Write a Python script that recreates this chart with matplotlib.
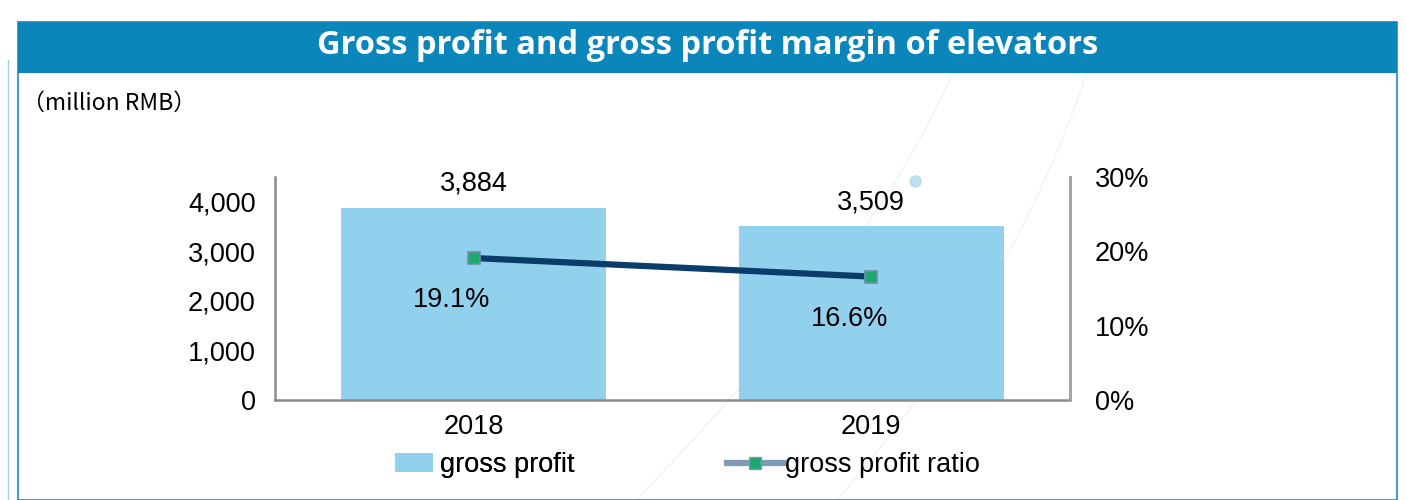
import matplotlib.pyplot as plt
from matplotlib.patches import Rectangle, Patch, PathPatch
from matplotlib.path import Path
from matplotlib.lines import Line2D

years = ['2018', '2019']
gross_profit = [3884, 3509]
gross_ratio = [0.191, 0.166]
profit_labels = ['3,884', '3,509']
ratio_labels = ['19.1%', '16.6%']

plt.rcParams['font.family'] = ['Liberation Sans', 'DejaVu Sans']

fig = plt.figure(figsize=(14.07, 5), dpi=100)
fig.patch.set_facecolor('white')

W, H = 1407, 500
def fx(px): return px / W
def fy(py): return 1 - py / H

# faint decorative arcs behind the chart
for pts in [[(953, 73), (870, 260), (636, 500)], [(1087, 73), (1010, 300), (837, 500)]]:
    verts = [(fx(a), fy(b)) for a, b in pts]
    fig.add_artist(PathPatch(Path(verts, [Path.MOVETO, Path.CURVE3, Path.CURVE3]),
                             transform=fig.transFigure, fill=False, ec='#eef6f9',
                             lw=1.2, zorder=-5))
fig.add_artist(Line2D([fx(915)], [fy(181)], transform=fig.transFigure, marker='o',
                      markersize=9, color='#bcdff0', markeredgewidth=0, zorder=-4))

# frame and title banner
fig.add_artist(Line2D([fx(8), fx(8)], [0, fy(60)], transform=fig.transFigure,
                      color='#9fd3ea', lw=1))
fig.add_artist(Rectangle((fx(18), fy(500)), fx(1397) - fx(18), fy(22) - fy(500),
                         transform=fig.transFigure, fill=False, ec='#1a8cc0', lw=1.2))
fig.add_artist(Rectangle((fx(18), fy(73)), fx(1397) - fx(18), fy(22) - fy(73),
                         transform=fig.transFigure, fc='#0a86bb', ec='none'))
fig.text(fx(708), fy(45), 'Gross profit and gross profit margin of elevators',
         ha='center', va='center', color='white', fontsize=23.5, fontweight='bold',
         family=['Open Sans', 'DejaVu Sans'])
fig.text(fx(22), fy(103), '（million RMB）', ha='left', va='center', fontsize=16.5,
         family=['Noto Sans CJK SC', 'DejaVu Sans'])

ax = fig.add_axes([fx(275), fy(400), fx(1070) - fx(275), fy(177) - fy(400)])
ax.patch.set_alpha(0)
x = range(len(years))
ax.bar(x, gross_profit, width=0.667, color='#92d1ee', zorder=1)
ax.set_xlim(-0.5, 1.5)
ax.set_ylim(0, 4500)
ax.set_yticks([0, 1000, 2000, 3000, 4000])
ax.set_yticklabels(['{:,}'.format(v) for v in [0, 1000, 2000, 3000, 4000]])
ax.set_xticks(list(x))
ax.set_xticklabels(years)
ax.tick_params(length=0, labelsize=19.5, pad=14)
ax.tick_params(axis='x', pad=10)
ax.spines['top'].set_visible(False)
for s in ['left', 'bottom', 'right']:
    ax.spines[s].set_color('#8c8c8c')
    ax.spines[s].set_linewidth(1.8)
for i, v in enumerate(gross_profit):
    ax.text(i, v + 480, profit_labels[i], ha='center', va='center', fontsize=19.5)

ax2 = ax.twinx()
ax2.set_ylim(0, 0.30)
ax2.set_yticks([0, 0.1, 0.2, 0.3])
ax2.set_yticklabels(['0%', '10%', '20%', '30%'])
ax2.tick_params(length=0, labelsize=19.5, pad=18)
for s in ['top', 'left', 'bottom']:
    ax2.spines[s].set_visible(False)
ax2.spines['right'].set_color('#a6a6a6')
ax2.spines['right'].set_linewidth(1.8)
ax2.plot(list(x), gross_ratio, color='#0b3d6b', lw=4.5, marker='s', markersize=8,
         markerfacecolor='#1aaa6f', markeredgecolor='#6f8fa8', markeredgewidth=1.2, zorder=3)
for i, v in enumerate(gross_ratio):
    ax2.text(i - 0.055, v - 0.057, ratio_labels[i], ha='center', va='center', fontsize=19.5)

# legend, two entries placed separately
leg1 = fig.legend([Patch(facecolor='#92d1ee', edgecolor='none')], ['gross profit'],
                  loc='center left', bbox_to_anchor=(fx(395), fy(465)), frameon=False,
                  fontsize=19.5, handlelength=1.4, handletextpad=0.25,
                  borderpad=0, borderaxespad=0)
leg2 = fig.legend([Line2D([0], [0], color='#7f9ab5', lw=4.5, marker='s', markersize=8,
                          markerfacecolor='#1aaa6f', markeredgecolor='#7f9ab5')],
                  ['gross profit ratio'], loc='center left',
                  bbox_to_anchor=(fx(727), fy(465)), frameon=False, fontsize=19.5,
                  handlelength=2.05, handletextpad=0.1, borderpad=0, borderaxespad=0)
fig.add_artist(leg1)

fig.savefig('out.png', dpi=100)
